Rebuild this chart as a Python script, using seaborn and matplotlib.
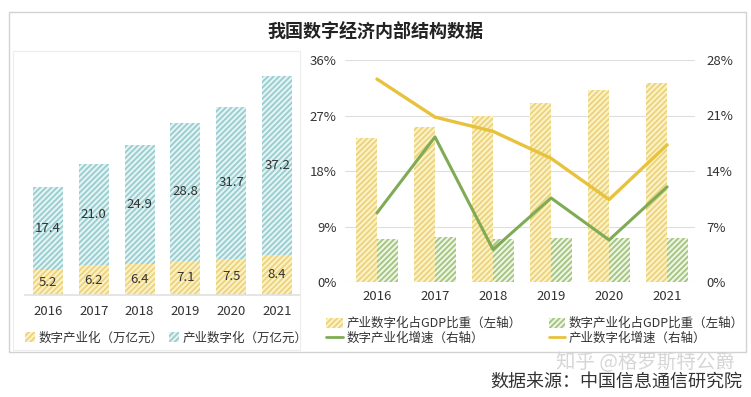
import numpy as np
import pandas as pd
import matplotlib
matplotlib.use("Agg")
import matplotlib.pyplot as plt
from matplotlib.patches import Patch, Rectangle
from matplotlib.lines import Line2D
import seaborn as sns

# ---------------- data ----------------
years = ["2016", "2017", "2018", "2019", "2020", "2021"]
digital_industry = [5.2, 6.2, 6.4, 7.1, 7.5, 8.4]          # 数字产业化（万亿元）
industry_digital = [17.4, 21.0, 24.9, 28.8, 31.7, 37.2]     # 产业数字化（万亿元）

share_industry_digital = [23.3, 25.2, 27.0, 29.1, 31.1, 32.3]  # 产业数字化占GDP比重 (%)
share_digital_industry = [6.9, 7.3, 6.9, 7.1, 7.2, 7.2]        # 数字产业化占GDP比重 (%)
growth_digital_industry = [8.7, 18.3, 4.1, 10.6, 5.3, 12.0]    # 数字产业化增速 (%)
growth_industry_digital = [25.6, 20.8, 19.0, 15.6, 10.4, 17.3] # 产业数字化增速 (%)

left_ticks = [0, 9, 18, 27, 36]
right_ticks = [0, 7, 14, 21, 28]

# ---------------- style ----------------
sns.set_theme(style="white")
plt.rcParams["font.family"] = ["Noto Sans CJK SC", "DejaVu Sans"]
plt.rcParams["hatch.linewidth"] = 1.3
plt.rcParams["axes.unicode_minus"] = False

HATCH = "//////"
YEL_FACE, YEL_HATCH = "#fbf2c6", "#ecd27c"
BLU_FACE, BLU_HATCH = "#e4f3f3", "#98cdd0"
GRN_FACE, GRN_HATCH = "#eef5e4", "#a2c47e"
YEL_LINE, GRN_LINE = "#e8c23c", "#7fab55"
TXT = "#333333"

W, H = 751, 397
fig = plt.figure(figsize=(W / 100, H / 100), dpi=100)
fig.patch.set_facecolor("white")

def rect(x0, y0, x1, y1):
    return [x0 / W, 1 - y1 / H, (x1 - x0) / W, (y1 - y0) / H]

# frames
fig.patches.append(Rectangle((9 / W, 1 - 352 / H), (746 - 9) / W, (352 - 12) / H,
                             transform=fig.transFigure, fill=False,
                             edgecolor="#d2d2d2", linewidth=1.0, zorder=0))
fig.patches.append(Rectangle((13 / W, 1 - 350 / H), (300 - 13) / W, (350 - 51) / H,
                             transform=fig.transFigure, fill=False,
                             edgecolor="#ececec", linewidth=0.8, zorder=0))

fig.text(375 / W, 1 - 31 / H, "我国数字经济内部结构数据", ha="center", va="center",
         fontsize=13, fontweight="bold", color="#222222")

# ---------------- left chart: stacked bars ----------------
axL = fig.add_axes(rect(25, 55, 300, 295))
totals = [a + b for a, b in zip(digital_industry, industry_digital)]
dfL = pd.DataFrame({"year": years, "total": totals, "di": digital_industry})
sns.barplot(data=dfL, x="year", y="total", ax=axL, width=0.655,
            color=BLU_FACE, linewidth=0, saturation=1)
sns.barplot(data=dfL, x="year", y="di", ax=axL, width=0.655,
            color=YEL_FACE, linewidth=0, saturation=1)
for c, face, hc in zip(axL.containers, [BLU_FACE, YEL_FACE], [BLU_HATCH, YEL_HATCH]):
    for p in c:
        p.set_facecolor(face); p.set_edgecolor(hc); p.set_hatch(HATCH); p.set_linewidth(0)
for i in range(len(years)):
    axL.text(i, digital_industry[i] / 2, f"{digital_industry[i]:.1f}", ha="center",
             va="center", fontsize=9.5, color=TXT)
    axL.text(i, digital_industry[i] + industry_digital[i] / 2, f"{industry_digital[i]:.1f}",
             ha="center", va="center", fontsize=9.5, color=TXT)
axL.set_ylim(0, 50)
axL.set_xlim(-0.5, 5.5)
axL.set_xlabel(""); axL.set_ylabel("")
axL.set_yticks([])
for s in ["top", "left", "right"]:
    axL.spines[s].set_visible(False)
axL.spines["bottom"].set_color("#e2e2e2")
axL.tick_params(axis="x", length=0, pad=7, labelsize=9.5, labelcolor=TXT)
axL.set_facecolor("none")

handlesL = [Patch(facecolor=YEL_FACE, edgecolor=YEL_HATCH, hatch=HATCH, linewidth=0),
            Patch(facecolor=BLU_FACE, edgecolor=BLU_HATCH, hatch=HATCH, linewidth=0)]
fig.legend(handlesL, ["数字产业化（万亿元）", "产业数字化（万亿元）"],
           loc="center left", bbox_to_anchor=(14 / W, 1 - 338 / H), ncol=2,
           frameon=False, fontsize=9, handlelength=0.8, handleheight=0.8,
           handletextpad=0.3, columnspacing=0.4, labelcolor=TXT)

# ---------------- right chart: bars + lines ----------------
axR = fig.add_axes(rect(345, 60, 695, 282))
dfR = pd.DataFrame({
    "year": years * 2,
    "value": share_industry_digital + share_digital_industry,
    "series": ["产业数字化占GDP比重（左轴）"] * 6 + ["数字产业化占GDP比重（左轴）"] * 6,
})
sns.barplot(data=dfR, x="year", y="value", hue="series", ax=axR, width=0.72,
            palette=[YEL_FACE, GRN_FACE], saturation=1, linewidth=0,
            legend=False)
for c, face, hc in zip(axR.containers, [YEL_FACE, GRN_FACE], [YEL_HATCH, GRN_HATCH]):
    for p in c:
        p.set_facecolor(face); p.set_edgecolor(hc); p.set_hatch(HATCH); p.set_linewidth(0)
axR.set_ylim(0, 36)
axR.set_yticks(left_ticks)
axR.set_yticklabels([f"{t}%" for t in left_ticks])
axR.grid(axis="y", color="#dedede", linewidth=0.8)
axR.set_axisbelow(True)
axR.set_xlabel(""); axR.set_ylabel("")
for s in axR.spines.values():
    s.set_visible(False)
axR.tick_params(axis="both", length=0, labelsize=9.5, labelcolor=TXT)
axR.tick_params(axis="y", pad=6)
axR.tick_params(axis="x", pad=6)

ax2 = axR.twinx()
xs = np.arange(len(years))
sns.lineplot(x=xs, y=growth_industry_digital, ax=ax2, color=YEL_LINE, linewidth=2.4)
sns.lineplot(x=xs, y=growth_digital_industry, ax=ax2, color=GRN_LINE, linewidth=2.2)
ax2.set_ylim(0, 28)
ax2.set_yticks(right_ticks)
ax2.set_yticklabels([f"{t}%" for t in right_ticks])
ax2.set_ylabel("")
for s in ax2.spines.values():
    s.set_visible(False)
ax2.tick_params(axis="y", length=0, labelsize=9.5, labelcolor=TXT, pad=8)
axR.set_xlim(-0.55, 5.48)

handlesR = [Patch(facecolor=YEL_FACE, edgecolor=YEL_HATCH, hatch=HATCH, linewidth=0),
            Line2D([], [], color=GRN_LINE, linewidth=2),
            Patch(facecolor=GRN_FACE, edgecolor=GRN_HATCH, hatch=HATCH, linewidth=0),
            Line2D([], [], color=YEL_LINE, linewidth=2)]
labelsR = ["产业数字化占GDP比重（左轴）", "数字产业化增速（右轴）",
           "数字产业化占GDP比重（左轴）", "产业数字化增速（右轴）"]
fig.legend(handlesR, labelsR, loc="center left", bbox_to_anchor=(315 / W, 1 - 331 / H),
           ncol=2, frameon=False, fontsize=9, handlelength=1.3, handleheight=0.8,
           handletextpad=0.3, columnspacing=2.2, labelspacing=0.15, labelcolor=TXT)

# watermark and source
fig.text(735 / W, 1 - 363 / H, "知乎 @格罗斯特公爵", ha="right", va="center",
         fontsize=14, color="#d6d6d6")
fig.text(742 / W, 1 - 382 / H, "数据来源：中国信息通信研究院", ha="right", va="center",
         fontsize=13, color="#333333", fontweight="light")

fig.savefig("out.png", dpi=100, facecolor="white")
